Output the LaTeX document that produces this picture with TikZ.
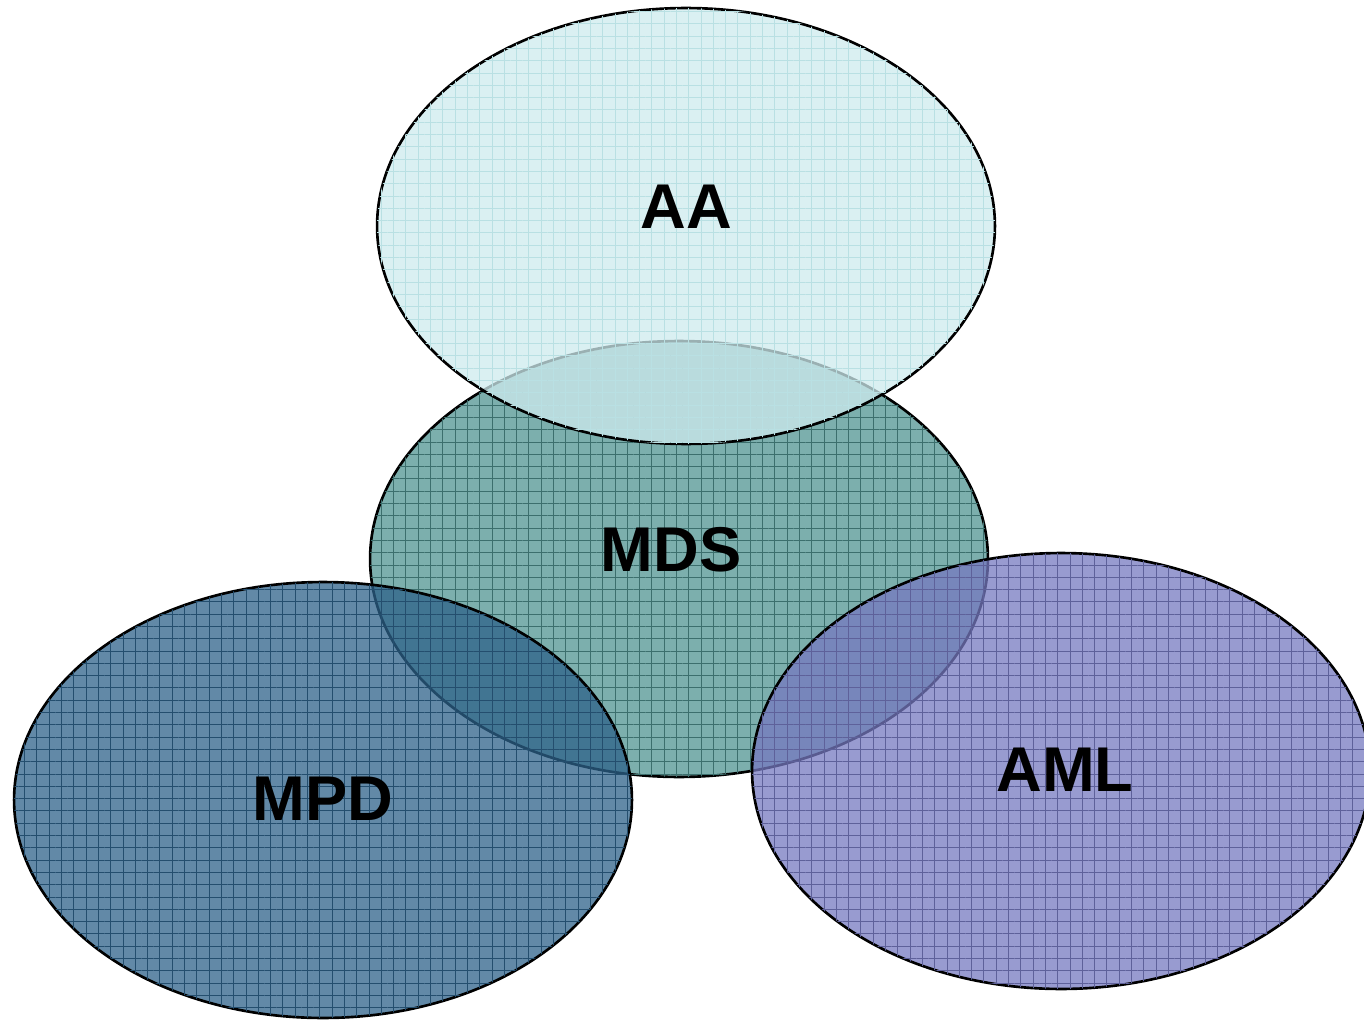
\documentclass[tikz,border=0pt]{standalone}
\usepackage{fontspec}
\setmainfont{Liberation Sans}
\usetikzlibrary{shapes.geometric,patterns.meta}
\definecolor{aaCyan}{RGB}{206,235,238}
\definecolor{mdsTeal}{RGB}{80,148,145}
\definecolor{mpdBlue}{RGB}{45,98,138}
\definecolor{amlViolet}{RGB}{118,121,192}
\tikzstyle{blob}=[ellipse, draw=black, line width=1.5pt, minimum width=12.36cm,
  minimum height=8.72cm, inner sep=0pt, fill opacity=0.75]
\tikzstyle{grid}=[postaction={pattern={Hatch[angle=0,distance=7pt,line width=0.5pt]}}]
\tikzstyle{tag}=[inner sep=0pt, font=\fontsize{36}{40}\selectfont\bfseries]

\begin{document}
\begin{tikzpicture}[x=0.02cm,y=-0.02cm]
\useasboundingbox (0,0) rectangle (1364,1020);
% MDS lies under the other three
\node[blob, fill=mdsTeal, grid, pattern color=mdsTeal!75!black] (mds) at (679,559) {};
\node[blob, fill=aaCyan, grid, pattern color=aaCyan!90!teal] (aa) at (686,226) {};
\node[blob, fill=mpdBlue, grid, pattern color=mpdBlue!80!black] (mpd) at (323,800) {};
\node[blob, fill=amlViolet, grid, pattern color=amlViolet!80!black] (aml) at (1061,771) {};
% labels
\node[tag] (aaText) at (686,207) {AA};
\node[tag] (mdsText) at (671,550) {MDS};
\node[tag] (mpdText) at (323,799) {MPD};
\node[tag] (amlText) at (1065,770) {AML};
\end{tikzpicture}
\end{document}
